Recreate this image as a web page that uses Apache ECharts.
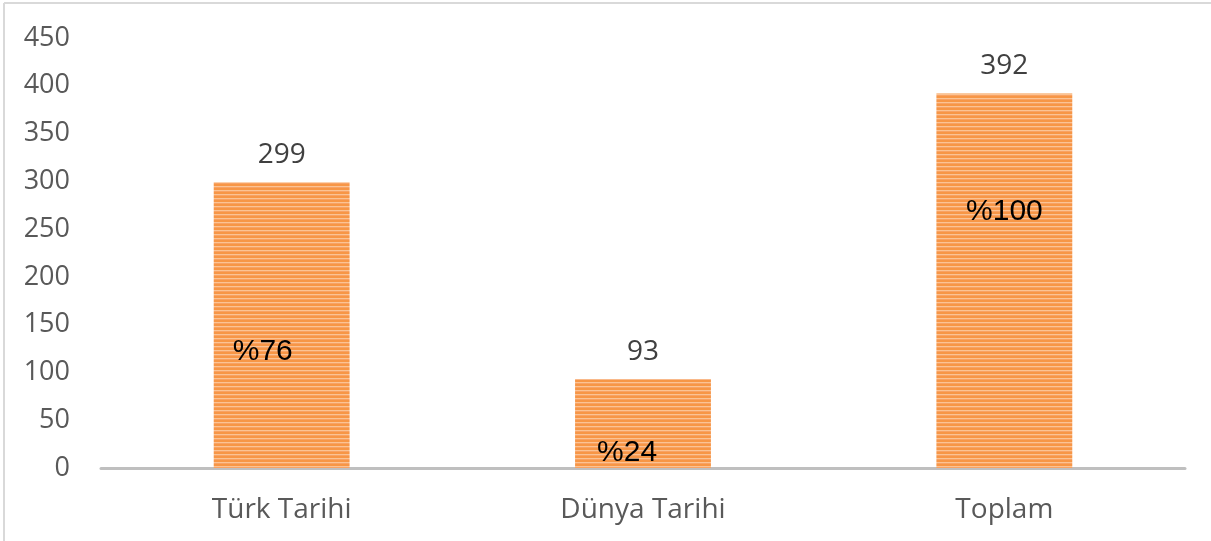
<!DOCTYPE html>
<html>
<head>
<meta charset="utf-8">
<script src="https://cdn.jsdelivr.net/npm/echarts@6/dist/echarts.min.js"></script>
<style>
html,body{margin:0;padding:0;background:#fff;}
#c{width:1211px;height:541px;}
</style>
</head>
<body>
<div id="c"></div>
<script>
var categories = ['Türk Tarihi', 'Dünya Tarihi', 'Toplam'];
var counts = [299, 93, 392];
var percentLabels = ['%76', '%24', '%100'];
var yTicks = [0, 50, 100, 150, 200, 250, 300, 350, 400, 450];

// label placement inside each bar (style only)
var pctPos = [[49, 169], [52, 74], [68, 118]];

function stripes() {
  var cv = document.createElement('canvas');
  cv.width = 8; cv.height = 4;
  var ctx = cv.getContext('2d');
  var rows = ['#f79646', '#f79646', '#fbc394', '#f8a263'];
  for (var i = 0; i < rows.length; i++) {
    ctx.fillStyle = rows[i];
    ctx.fillRect(0, i, 8, 1);
  }
  return cv;
}

var chart = echarts.init(document.getElementById('c'), null, {renderer: 'canvas'});
var pattern = {image: stripes(), repeat: 'repeat'};

chart.setOption({
  animation: false,
  backgroundColor: '#ffffff',
  graphic: [
    {type: 'line', shape: {x1: 4, y1: 3, x2: 1211, y2: 3}, style: {stroke: '#d9d9d9', lineWidth: 2}},
    {type: 'line', shape: {x1: 4, y1: 3, x2: 4, y2: 541}, style: {stroke: '#d9d9d9', lineWidth: 2}}
  ],
  grid: {left: 101, right: 26, top: 38, bottom: 73, containLabel: false},
  xAxis: {
    type: 'category',
    data: categories,
    axisLine: {show: true, lineStyle: {color: '#bfbfbf', width: 3}},
    axisTick: {show: false},
    axisLabel: {color: '#595959', fontSize: 28, fontFamily: 'Open Sans', margin: 28}
  },
  yAxis: {
    type: 'value',
    min: yTicks[0],
    max: yTicks[yTicks.length - 1],
    interval: yTicks[1] - yTicks[0],
    axisLine: {show: false},
    axisTick: {show: false},
    splitLine: {show: false},
    axisLabel: {color: '#595959', fontSize: 27, fontFamily: 'Open Sans', margin: 31}
  },
  series: [
    {
      type: 'bar',
      data: counts,
      barWidth: '37.6%',
      itemStyle: {color: pattern},
      label: {
        show: true, position: 'top', distance: 13,
        color: '#404040', fontSize: 28, fontFamily: 'Open Sans'
      },
      z: 2
    },
    {
      type: 'bar',
      data: counts.map(function (v, i) {
        return {
          value: v,
          label: {
            show: true,
            formatter: percentLabels[i],
            position: pctPos[i],
            align: 'center',
            verticalAlign: 'middle'
          }
        };
      }),
      barWidth: '37.6%',
      barGap: '-100%',
      itemStyle: {color: 'rgba(0,0,0,0)'},
      label: {color: '#000000', fontSize: 30, fontFamily: 'Liberation Sans'},
      silent: true,
      z: 3
    }
  ]
});
</script>
</body>
</html>
